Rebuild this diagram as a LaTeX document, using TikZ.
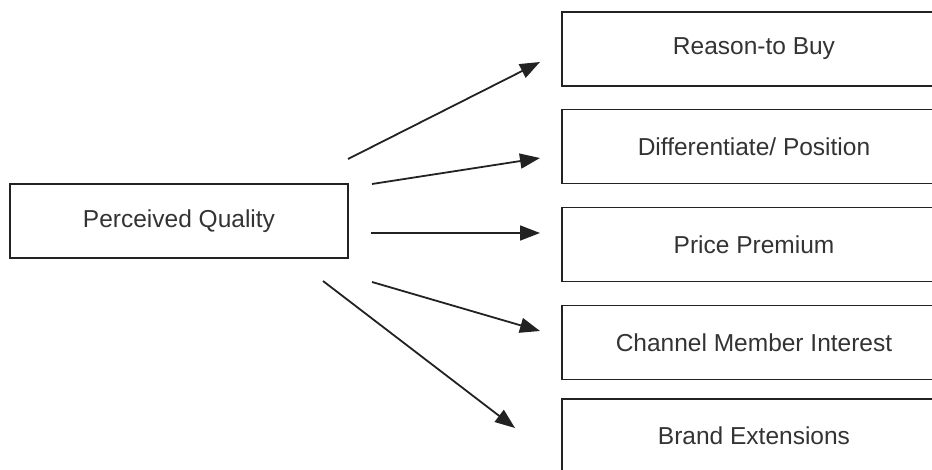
\documentclass[tikz,border=0pt]{standalone}
\usepackage{fontspec}
\setmainfont{Liberation Sans}
\usetikzlibrary{arrows.meta}
\definecolor{ink}{HTML}{222222}
\definecolor{txt}{HTML}{333333}
\begin{document}
\begin{tikzpicture}[x=1pt,y=-1pt,
  box/.style={draw=ink,line width=1.6pt,minimum height=74pt,inner sep=0pt,
    text=txt,font=\fontsize{24.5}{27}\selectfont},
  srcbox/.style={box,minimum width=338pt},
  effbox/.style={box,minimum width=384pt},
  link/.style={draw=ink,line width=1.8pt,-{Triangle[length=20pt,width=15pt]}}]
\useasboundingbox (0,0) rectangle (932,470);
% source
\node[srcbox] (pq) at (179,221) {Perceived Quality};
% consequences
\node[effbox] (rb) at (754,49)    {Reason-to Buy};
\node[effbox] (dp) at (754,146.5) {Differentiate/ Position};
\node[effbox] (pp) at (754,244.5) {Price Premium};
\node[effbox] (cm) at (754,342.5) {Channel Member Interest};
\node[effbox] (be) at (754,436)   {Brand Extensions};
% arrow ends
\coordinate (s1) at (348,159); \coordinate (e1) at (540,62);
\coordinate (s2) at (372,184); \coordinate (e2) at (540,158);
\coordinate (s3) at (371,233); \coordinate (e3) at (540,233);
\coordinate (s4) at (372,282); \coordinate (e4) at (540,331);
\coordinate (s5) at (323,281); \coordinate (e5) at (515,428);
\draw[link] (s1) -- (e1);
\draw[link] (s2) -- (e2);
\draw[link] (s3) -- (e3);
\draw[link] (s4) -- (e4);
\draw[link] (s5) -- (e5);
\end{tikzpicture}
\end{document}
